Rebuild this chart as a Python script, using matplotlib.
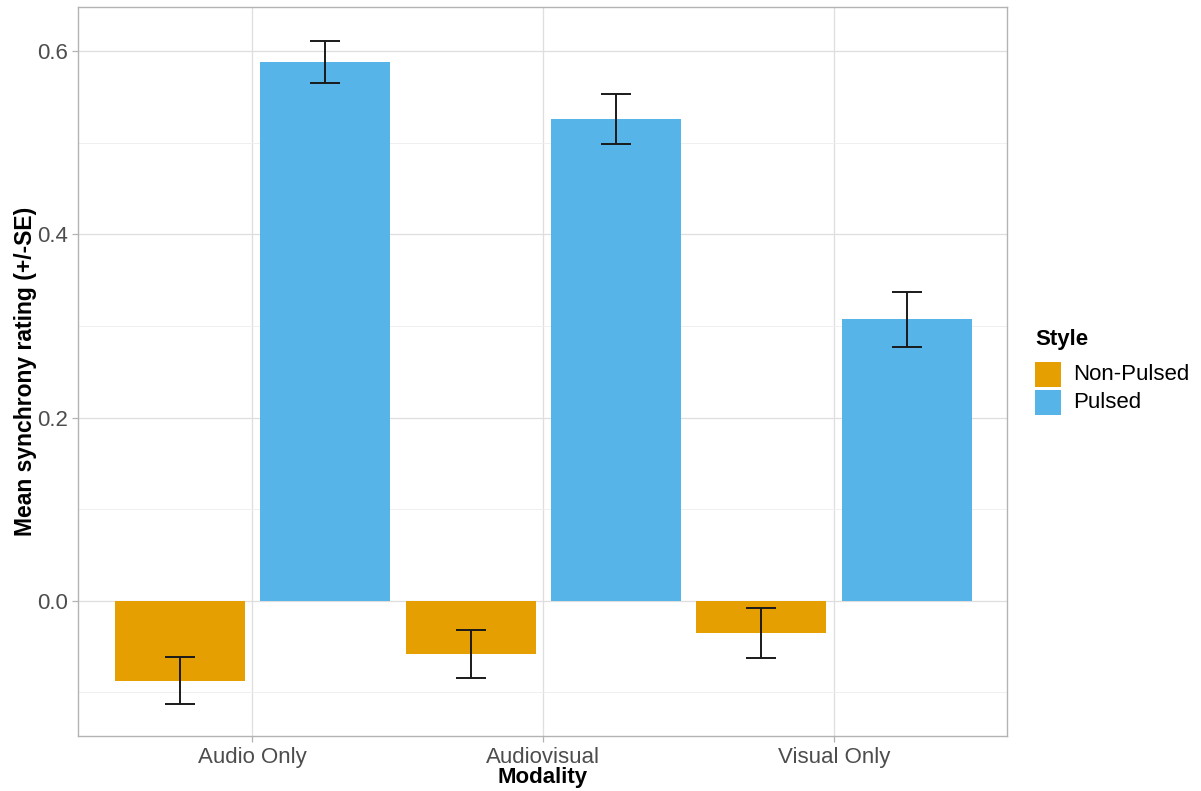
import matplotlib
matplotlib.use("Agg")
import matplotlib.pyplot as plt
import numpy as np
from matplotlib.patches import Rectangle

categories = ["Audio Only", "Audiovisual", "Visual Only"]
styles = ["Non-Pulsed", "Pulsed"]
nonpulsed_mean = [-0.087, -0.058, -0.035]
nonpulsed_se = [0.026, 0.026, 0.027]
pulsed_mean = [0.588, 0.526, 0.307]
pulsed_se = [0.023, 0.027, 0.030]
colors = {"Non-Pulsed": "#E69F00", "Pulsed": "#56B4E9"}

plt.rcParams['font.family'] = ['Liberation Sans', 'DejaVu Sans']

W, H = 1201, 791
fig = plt.figure(figsize=(W/100, H/100), dpi=100)
ax = fig.add_axes([78/W, 1-736/H, (1007-78)/W, (736-7)/H])

x = np.arange(len(categories))
offset = 0.25
width = 0.447
series = [(nonpulsed_mean, nonpulsed_se, "Non-Pulsed", -offset),
          (pulsed_mean, pulsed_se, "Pulsed", offset)]
for m, se, name, off in series:
    ax.bar(x + off, m, width=width, color=colors[name], zorder=2)
    ax.errorbar(x + off, m, yerr=se, fmt='none', ecolor='#1a1a1a',
                elinewidth=1.4, capsize=10.5, capthick=1.4, zorder=3)

ax.set_xlim(-0.6, 2.595)
ax.set_ylim(-0.1475, 0.648)
ax.set_yticks([0.0, 0.2, 0.4, 0.6])
ax.set_yticklabels(["0.0", "0.2", "0.4", "0.6"])
ax.set_yticks([-0.1, 0.1, 0.3, 0.5], minor=True)
ax.set_xticks(x)
ax.set_xticklabels(categories)

ax.grid(True, which='major', color='#DEDEDE', linewidth=0.9, zorder=0)
ax.grid(True, which='minor', axis='y', color='#EDEDED', linewidth=0.6, zorder=0)
ax.set_axisbelow(True)
for s in ax.spines.values():
    s.set_color('#B3B3B3')
    s.set_linewidth(1.0)
ax.tick_params(axis='both', which='major', colors='#B3B3B3', labelcolor='#4D4D4D',
               labelsize=16, length=4, width=0.9)
ax.tick_params(axis='x', which='major', pad=4)
ax.tick_params(axis='y', which='minor', length=0)

ax.set_xlabel("Modality", fontsize=16, fontweight='bold', color='black', labelpad=-1)
ax.set_ylabel("Mean synchrony rating (+/-SE)", fontsize=16.5, fontweight='bold',
              color='black', labelpad=0)

# Legend drawn manually in figure pixel coordinates
fig.text(1035/W, 1-340/H, "Style", fontsize=16, fontweight='bold', color='black',
         ha='left', va='center')
key_tops = [362, 390]
for s, top in zip(styles, key_tops):
    fig.add_artist(Rectangle((1035/W, 1-(top+25)/H), 26/W, 25/H,
                             transform=fig.transFigure, facecolor=colors[s],
                             edgecolor='none'))
    fig.text(1073/W, 1-(top+12.5)/H, s, fontsize=16, color='black',
             ha='left', va='center')

fig.savefig("out.png", dpi=100)
